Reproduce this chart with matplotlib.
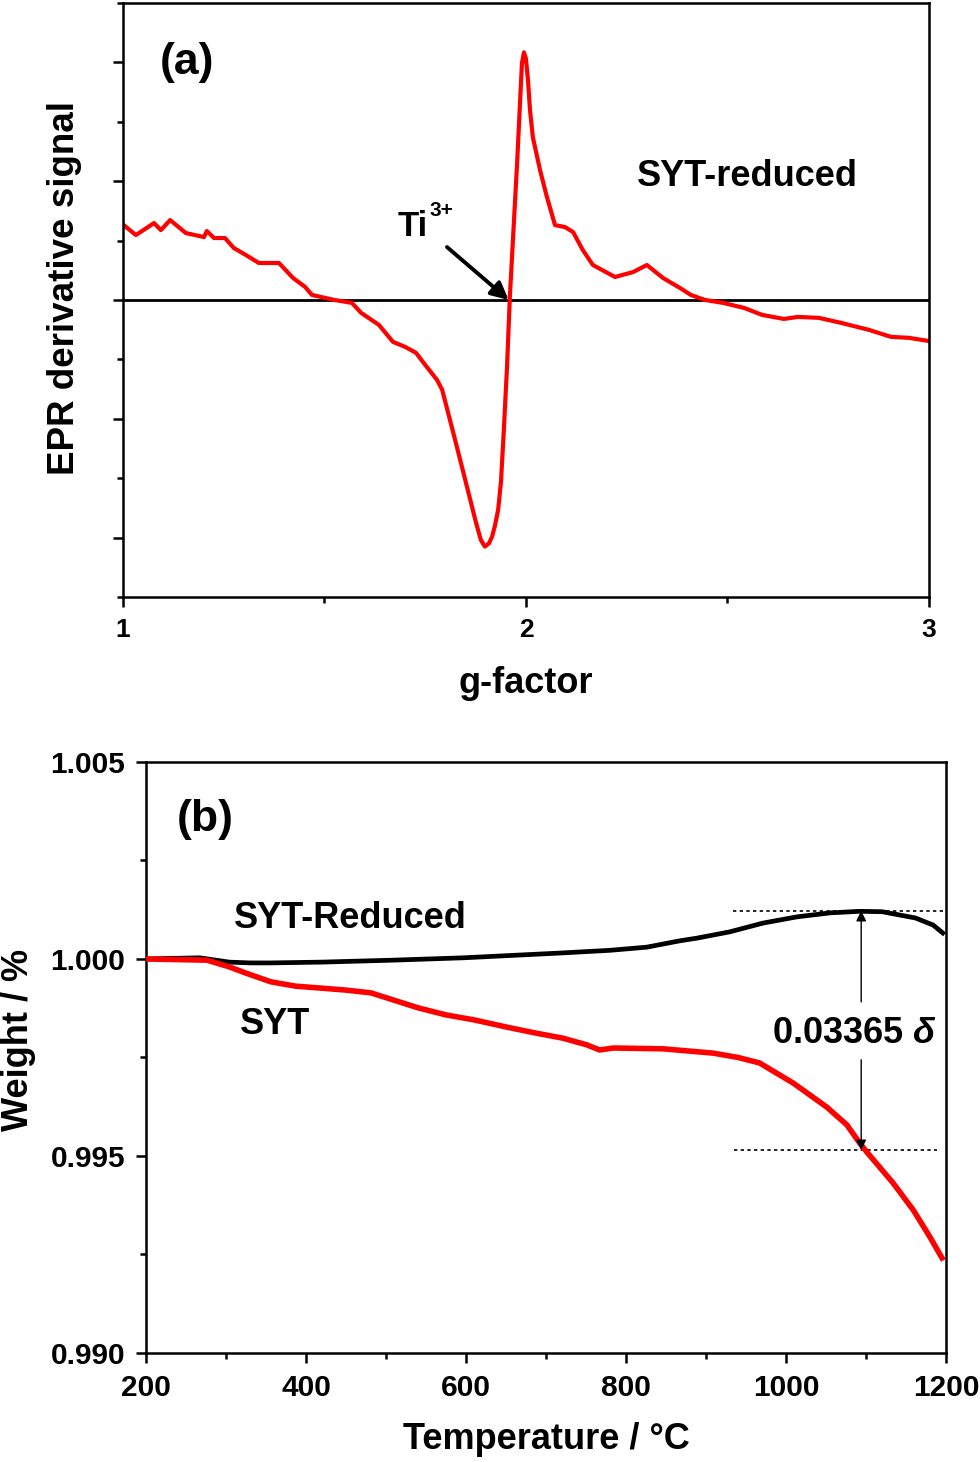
import matplotlib
matplotlib.use("Agg")
import matplotlib.pyplot as plt
from matplotlib.ticker import MultipleLocator

plt.rcParams['font.family'] = ['Liberation Sans', 'DejaVu Sans']
plt.rcParams['font.weight'] = 'bold'
plt.rcParams['mathtext.fontset'] = 'custom'
plt.rcParams['mathtext.rm'] = 'Liberation Sans:bold'
plt.rcParams['mathtext.bf'] = 'Liberation Sans:bold'
plt.rcParams['mathtext.it'] = 'Liberation Sans:italic'

# (a) EPR spectrum of SYT-reduced
g_factor = [1.002, 1.032, 1.077, 1.094, 1.117, 1.156, 1.201, 1.208, 1.226, 1.253,
            1.275, 1.305, 1.337, 1.387, 1.422, 1.452, 1.469, 1.524, 1.568, 1.591,
            1.635, 1.670, 1.700, 1.727, 1.744, 1.779, 1.792, 1.824, 1.851, 1.876,
            1.888, 1.898, 1.908, 1.916, 1.923, 1.931, 1.938, 1.945, 1.953, 1.960,
            1.978, 1.990, 1.995, 2.000, 2.005, 2.010, 2.017, 2.035, 2.052, 2.072,
            2.097, 2.117, 2.141, 2.166, 2.221, 2.266, 2.300, 2.340, 2.382, 2.409,
            2.444, 2.489, 2.541, 2.586, 2.640, 2.675, 2.727, 2.782, 2.851, 2.906,
            2.950, 2.998]
epr_signal = [0.630, 0.546, 0.647, 0.588, 0.672, 0.563, 0.529, 0.580, 0.521, 0.521,
              0.437, 0.378, 0.311, 0.311, 0.185, 0.109, 0.042, 0.000, -0.025, -0.109,
              -0.210, -0.353, -0.395, -0.445, -0.521, -0.672, -0.756, -1.176, -1.538, -1.874,
              -2.020, -2.076, -2.050, -1.992, -1.900, -1.765, -1.530, -1.100, -0.563, 0.025,
              1.151, 1.992, 2.084, 2.030, 1.849, 1.600, 1.370, 1.092, 0.866, 0.630,
              0.613, 0.571, 0.420, 0.294, 0.193, 0.235, 0.294, 0.185, 0.101, 0.042,
              0.000, -0.025, -0.067, -0.126, -0.160, -0.143, -0.151, -0.193, -0.252, -0.311,
              -0.319, -0.345]

# (b) TGA curves
temp_reduced = [200, 267, 304, 330, 356, 419, 509, 597, 717, 780, 826, 867,
                889, 930, 971, 1014, 1055, 1092, 1120, 1162, 1184, 1196]
weight_reduced = [1.00000, 1.00003, 0.99992, 0.99990, 0.99990, 0.99992, 0.99997, 1.00003,
                  1.00015, 1.00022, 1.00030, 1.00046, 1.00053, 1.00069, 1.00091, 1.00107,
                  1.00117, 1.00121, 1.00120, 1.00104, 1.00086, 1.00066]
temp_syt = [200, 276, 304, 325, 356, 387, 419, 450, 481, 509, 540, 575, 611, 651, 687,
            721, 751, 767, 784, 846, 909, 940, 967, 1009, 1051, 1076, 1092, 1101, 1134,
            1159, 1180, 1195]
weight_syt = [1.00000, 0.99997, 0.99980, 0.99964, 0.99942, 0.99931, 0.99926, 0.99921,
              0.99914, 0.99896, 0.99876, 0.99858, 0.99845, 0.99827, 0.99812, 0.99799,
              0.99782, 0.99769, 0.99774, 0.99772, 0.99761, 0.99750, 0.99736, 0.99685,
              0.99624, 0.99579, 0.99533, 0.99510, 0.99431, 0.99363, 0.99294, 0.99241]

w_top = 1.00122
w_bottom = 0.99515
t_arrow = 1094

fig = plt.figure(figsize=(9.8, 14.62), dpi=100)
ax1 = fig.add_axes([0.1255, 0.5917, 0.8224, 0.4063])
ax2 = fig.add_axes([0.149, 0.0746, 0.8163, 0.4042])

# ---- panel (a)
ax1.axhline(0, color='black', lw=2.0, zorder=1)
ax1.plot(g_factor, epr_signal, color='#ff0000', lw=3.0, zorder=2)
ax1.set_xlim(1, 3)
ax1.set_ylim(-2.5, 2.5)
ax1.xaxis.set_major_locator(MultipleLocator(1))
ax1.xaxis.set_minor_locator(MultipleLocator(0.5))
ax1.yaxis.set_major_locator(MultipleLocator(1))
ax1.yaxis.set_minor_locator(MultipleLocator(0.5))
ax1.set_yticklabels([])
ax1.set_xticks([1, 2, 3])
ax1.set_xticklabels(['1', '2', '3'])
ax1.set_xlabel('g-factor', fontsize=26, fontweight='bold')
ax1.set_ylabel('EPR derivative signal', fontsize=26.5, fontweight='bold')
ax1.xaxis.set_label_coords(0.5, -0.145)
ax1.xaxis.label.set_va('center')
ax1.yaxis.set_label_coords(-0.072, 0.52)
ax1.yaxis.label.set_va('center')
ax1.text(1.092, 2.0, '(a)', fontsize=32, fontweight='bold', va='center')
ax1.text(2.275, 1.042, 'SYT-reduced', fontsize=26, fontweight='bold', va='center')
ti = ax1.text(1.682, 0.54, 'Ti', fontsize=25, fontweight='bold', va='baseline')
ax1.annotate('3+', xy=(1.0, 1.0), xycoords=ti, xytext=(1, 6), textcoords='offset points',
             fontsize=15, fontweight='bold', ha='left', va='top')
ax1.annotate('', xy=(1.957, 0.0), xytext=(1.804, 0.445),
             arrowprops=dict(arrowstyle='-|>', lw=2.8, color='black',
                             mutation_scale=26, shrinkA=0, shrinkB=0))

# ---- panel (b)
ax2.plot(temp_reduced, weight_reduced, color='black', lw=3.4, zorder=3)
ax2.plot(temp_syt, weight_syt, color='#ff0000', lw=4.0, zorder=3)
ax2.plot([934, 1200], [w_top, w_top], color='black', lw=1.2, ls=(0, (2, 2)), zorder=2)
ax2.plot([935, 1189], [w_bottom, w_bottom], color='black', lw=1.2, ls=(0, (2, 2)), zorder=2)
ax2.annotate('', xy=(t_arrow, w_top), xytext=(t_arrow, 0.99891),
             arrowprops=dict(arrowstyle='-|>', lw=1.0, color='black',
                             mutation_scale=15, shrinkA=0, shrinkB=0))
ax2.annotate('', xy=(t_arrow, w_bottom), xytext=(t_arrow, 0.99744),
             arrowprops=dict(arrowstyle='-|>', lw=1.0, color='black',
                             mutation_scale=15, shrinkA=0, shrinkB=0))
ax2.text(982, 0.99812, r'0.03365 $\delta$', fontsize=26, fontweight='bold', va='center')
ax2.text(310, 1.00104, 'SYT-Reduced', fontsize=26, fontweight='bold', va='center')
ax2.text(317, 0.99833, 'SYT', fontsize=26, fontweight='bold', va='center')
ax2.text(239, 1.00353, '(b)', fontsize=32, fontweight='bold', va='center')
ax2.set_xlim(200, 1200)
ax2.set_ylim(0.990, 1.005)
ax2.xaxis.set_major_locator(MultipleLocator(200))
ax2.xaxis.set_minor_locator(MultipleLocator(100))
ax2.yaxis.set_major_locator(MultipleLocator(0.005))
ax2.yaxis.set_minor_locator(MultipleLocator(0.0025))
ax2.yaxis.set_major_formatter(plt.FormatStrFormatter('%.3f'))
ax2.set_xlabel('Temperature / \u00b0C', fontsize=26, fontweight='bold')
ax2.set_ylabel('Weight / %', fontsize=26, fontweight='bold')
ax2.xaxis.set_label_coords(0.5, -0.147)
ax2.xaxis.label.set_va('center')
ax2.yaxis.set_label_coords(-0.16, 0.53)
ax2.yaxis.label.set_va('center')

for ax, size in ((ax1, 19), (ax2, 21.5)):
    for s in ax.spines.values():
        s.set_linewidth(1.8)
    ax.tick_params(which='both', direction='out', top=False, right=False, width=1.8)
    ax.tick_params(which='major', length=7, labelsize=size, pad=8)
    ax.tick_params(which='minor', length=4)
    for lab in ax.get_xticklabels() + ax.get_yticklabels():
        lab.set_fontweight('bold')

fig.savefig('out.png', dpi=100)
